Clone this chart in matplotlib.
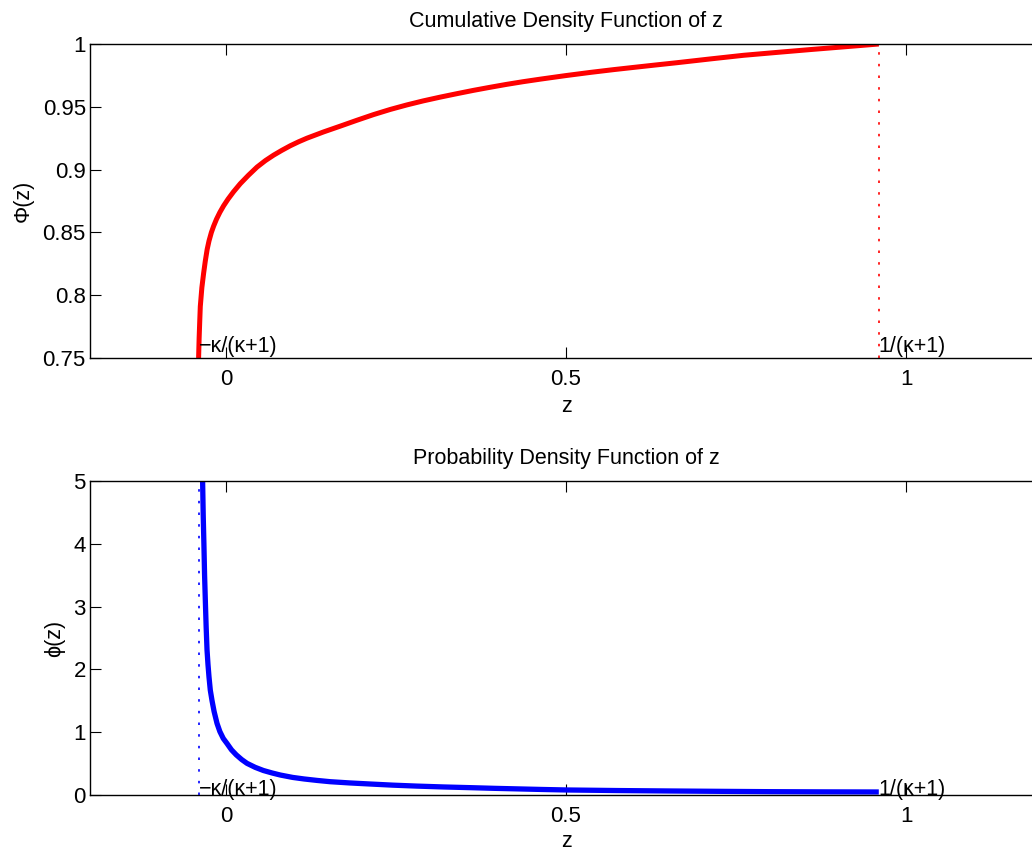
import matplotlib
matplotlib.use("Agg")
import matplotlib.pyplot as plt

plt.rcParams['font.family'] = ['Liberation Sans', 'DejaVu Sans']

# Support bounds of z
z_lower = -0.04
z_upper = 0.96

# Cumulative density Phi(z)
cdf_z = [-0.0403, -0.0395, -0.0385, -0.0378, -0.0355, -0.0329, -0.0305, -0.0277,
         -0.0250, -0.0215, -0.0182, -0.0140, -0.0090, -0.0035, 0.0030, 0.0110,
         0.0210, 0.0330, 0.0456, 0.0580, 0.0700, 0.0820, 0.0946, 0.1070,
         0.1190, 0.1435, 0.1680, 0.1926, 0.2170, 0.2416, 0.2660, 0.2900,
         0.3150, 0.3400, 0.3640, 0.3880, 0.4120, 0.4370, 0.4620, 0.4990,
         0.5360, 0.5700, 0.6000, 0.6320, 0.6630, 0.7120, 0.7610, 0.8100,
         0.8600, 0.9100, 0.9600]
cdf_phi = [0.750, 0.766, 0.781, 0.791, 0.806, 0.8175, 0.827, 0.8365,
           0.8432, 0.850, 0.855, 0.8605, 0.866, 0.8712, 0.8765, 0.8823,
           0.8888, 0.8955, 0.902, 0.9072, 0.9115, 0.9153, 0.919, 0.9222,
           0.925, 0.930, 0.9346, 0.9393, 0.9438, 0.9479, 0.9515, 0.9547,
           0.9577, 0.9605, 0.9631, 0.9655, 0.9678, 0.970, 0.972, 0.9748,
           0.9774, 0.9796, 0.9814, 0.9833, 0.9851, 0.9881, 0.991, 0.9933,
           0.9956, 0.9978, 1.000]

# Probability density phi(z)
pdf_z = [-0.0370, -0.0344, -0.0335, -0.0325, -0.0315, -0.0304, -0.0292, -0.0279,
         -0.0265, -0.0250, -0.0231, -0.0205, -0.0175, -0.0132, -0.0090, -0.0040,
         0.0015, 0.0080, 0.0150, 0.0230, 0.0309, 0.0430, 0.0550, 0.0680,
         0.0799, 0.0980, 0.1150, 0.1340, 0.153, 0.182, 0.212, 0.245,
         0.280, 0.320, 0.359, 0.395, 0.430, 0.465, 0.501, 0.575,
         0.653, 0.730, 0.800, 0.880, 0.960]
pdf_phi = [7.0, 5.0, 4.45, 4.0, 3.5, 3.1, 2.68, 2.31,
           2.08, 1.88, 1.67, 1.50, 1.33, 1.14, 1.01, 0.90,
           0.82, 0.72, 0.64, 0.565, 0.504, 0.44, 0.39, 0.35,
           0.318, 0.28, 0.255, 0.232, 0.212, 0.192, 0.175, 0.157,
           0.142, 0.128, 0.117, 0.106, 0.097, 0.088, 0.080, 0.071,
           0.064, 0.058, 0.053, 0.050, 0.048]

x_ticks = [0, 0.5, 1]
x_tick_labels = ['0', '0.5', '1']
cdf_ticks = [0.75, 0.8, 0.85, 0.9, 0.95, 1.0]
cdf_tick_labels = ['0.75', '0.8', '0.85', '0.9', '0.95', '1']
pdf_ticks = [0, 1, 2, 3, 4, 5]
pdf_tick_labels = ['0', '1', '2', '3', '4', '5']

W, H = 1032, 852
fig = plt.figure(figsize=(W / 100, H / 100), dpi=100)

left = 90 / W
width = 952 / W
ax1 = fig.add_axes([left, (H - 358) / H, width, 314 / H])
ax2 = fig.add_axes([left, (H - 795) / H, width, 314 / H])

FS_TICK = 16
FS = 15.5


def style(ax, yticks, ylabels):
    ax.set_xlim(-0.2, 1.2)
    ax.set_xticks(x_ticks)
    ax.set_xticklabels(x_tick_labels)
    ax.set_yticks(yticks)
    ax.set_yticklabels(ylabels)
    ax.tick_params(direction='in', length=8, width=0.8, top=True, right=False,
                   labelsize=FS_TICK, colors='black')
    ax.tick_params(axis='x', pad=8)
    ax.tick_params(axis='y', pad=3)
    for s in ax.spines.values():
        s.set_linewidth(1.0)
        s.set_color('black')


# Top panel: CDF
ax1.plot(cdf_z, cdf_phi, color=(1, 0, 0), lw=3.6, solid_capstyle='butt',
         solid_joinstyle='round')
ax1.plot([z_upper, z_upper], [0.75, 1.0], color=(1, 0, 0), lw=1.2,
         dashes=(1.5, 5.5))
ax1.set_ylim(0.75, 1.0)
style(ax1, cdf_ticks, cdf_tick_labels)
ax1.set_title('Cumulative Density Function of z', fontsize=FS, pad=12)
ax1.set_xlabel('z', fontsize=FS, labelpad=4)
ax1.set_ylabel('Φ(z)', fontsize=FS, labelpad=6)
ax1.text(z_lower, 0.7505, '−κ/(κ+1)', fontsize=FS, ha='left', va='bottom')
ax1.text(z_upper, 0.7505, '1/(κ+1)', fontsize=FS, ha='left', va='bottom')

# Bottom panel: PDF
ax2.plot(pdf_z, pdf_phi, color=(0, 0, 1), lw=3.8, solid_capstyle='butt',
         solid_joinstyle='round')
ax2.plot([z_lower, z_lower], [0, 5], color=(0, 0, 1), lw=1.2,
         dashes=(1.5, 5.5))
ax2.set_ylim(0, 5)
style(ax2, pdf_ticks, pdf_tick_labels)
ax2.set_title('Probability Density Function of z', fontsize=FS, pad=12)
ax2.set_xlabel('z', fontsize=FS, labelpad=3)
ax2.set_ylabel('ϕ(z)', fontsize=FS, labelpad=6)
ax2.text(z_lower, -0.08, '−κ/(κ+1)', fontsize=FS, ha='left', va='bottom')
ax2.text(z_upper, -0.08, '1/(κ+1)', fontsize=FS, ha='left', va='bottom')

fig.savefig('out.png', dpi=100)
